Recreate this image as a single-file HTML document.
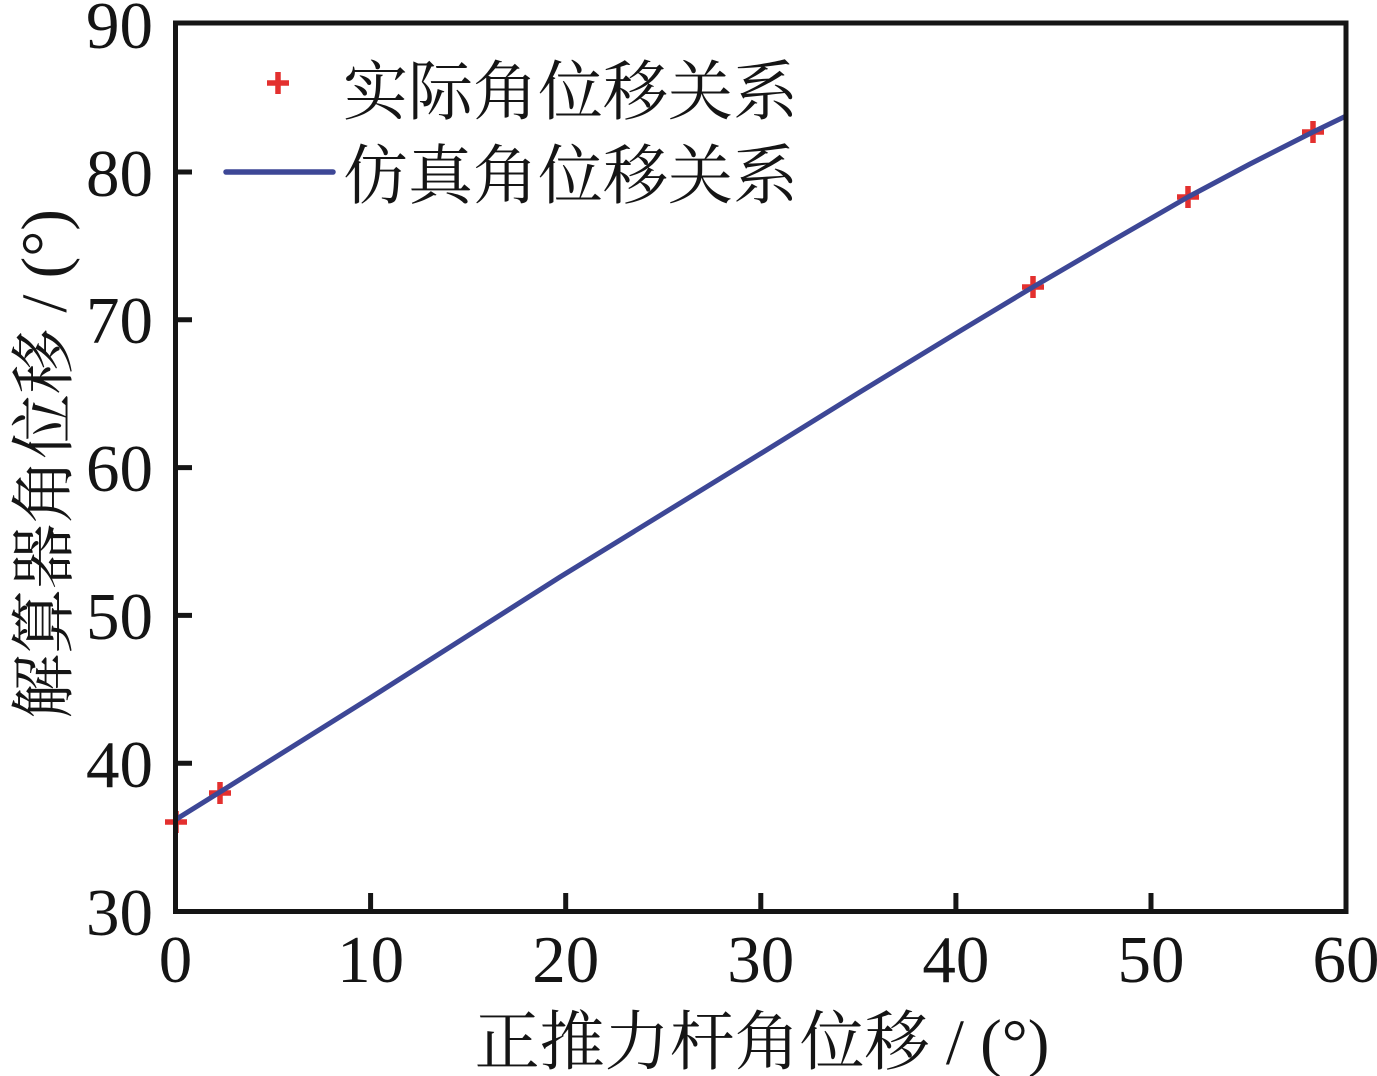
<!DOCTYPE html>
<html>
<head>
<meta charset="utf-8">
<style>
html,body{margin:0;padding:0;background:#fff;}
svg{display:block;}
text{fill:#151515;}
</style>
</head>
<body>
<svg width="1377" height="1076" viewBox="0 0 1377 1076" xmlns="http://www.w3.org/2000/svg">
  <rect x="0" y="0" width="1377" height="1076" fill="#fff"/>

  <!-- markers (drawn under line) -->
  <g stroke="#e3302f" stroke-width="5.5" fill="none">
    <path d="M165 822h22M176 811v22"/>
    <path d="M209 793h22M220 782v22"/>
    <path d="M1022 287h22M1033 276v22"/>
    <path d="M1177 197h22M1188 186v22"/>
    <path d="M1302 132h22M1313 121v22"/>
  </g>

  <!-- simulated curve -->
  <polyline fill="none" stroke="#3d4796" stroke-width="5" stroke-linejoin="round"
    points="175,820 220,792 370,698 560,577 760,454 860,392 960,331 1033,287 1110,242 1188,197 1250,164 1313,132 1346,116"/>

  <!-- frame -->
  <rect x="175.5" y="23" width="1170.5" height="888.5" fill="none" stroke="#151515" stroke-width="5"/>

  <!-- ticks -->
  <g stroke="#151515" stroke-width="5">
    <path d="M175 763.2h17M175 615.4h17M175 467.6h17M175 319.8h17M175 172h17"/>
    <path d="M370.6 911v-18M565.7 911v-18M760.8 911v-18M955.9 911v-18M1151 911v-18"/>
  </g>

  <!-- y tick labels -->
  <g font-family="'Liberation Serif', 'Times New Roman', Times, serif" font-size="67" text-anchor="end">
    <text x="153" y="935">30</text>
    <text x="153" y="787">40</text>
    <text x="153" y="639">50</text>
    <text x="153" y="491">60</text>
    <text x="153" y="343">70</text>
    <text x="153" y="196">80</text>
    <text x="153" y="48">90</text>
  </g>

  <!-- x tick labels -->
  <g font-family="'Liberation Serif', 'Times New Roman', Times, serif" font-size="67" text-anchor="middle">
    <text x="175.5" y="982">0</text>
    <text x="370.6" y="982">10</text>
    <text x="565.7" y="982">20</text>
    <text x="760.8" y="982">30</text>
    <text x="955.9" y="982">40</text>
    <text x="1151" y="982">50</text>
    <text x="1346" y="982">60</text>
  </g>

  <!-- axis titles -->
  <text font-family="'Liberation Serif', 'Noto Serif CJK SC', serif" font-size="65" x="762" y="1064" text-anchor="middle">正推力杆角位移 / (°)</text>
  <text font-family="'Liberation Serif', 'Noto Serif CJK SC', serif" font-size="65" transform="translate(66,464) rotate(-90)" text-anchor="middle">解算器角位移 / (°)</text>

  <!-- legend -->
  <g stroke="#e3302f" stroke-width="5.5">
    <path d="M267 83h22M278 72v22"/>
  </g>
  <line x1="226" y1="172" x2="333" y2="172" stroke="#3d4796" stroke-width="5.5" stroke-linecap="round"/>
  <text font-family="'Liberation Serif', 'Noto Serif CJK SC', serif" font-size="65" x="343" y="114">实际角位移关系</text>
  <text font-family="'Liberation Serif', 'Noto Serif CJK SC', serif" font-size="65" x="343" y="198">仿真角位移关系</text>
</svg>
</body>
</html>
